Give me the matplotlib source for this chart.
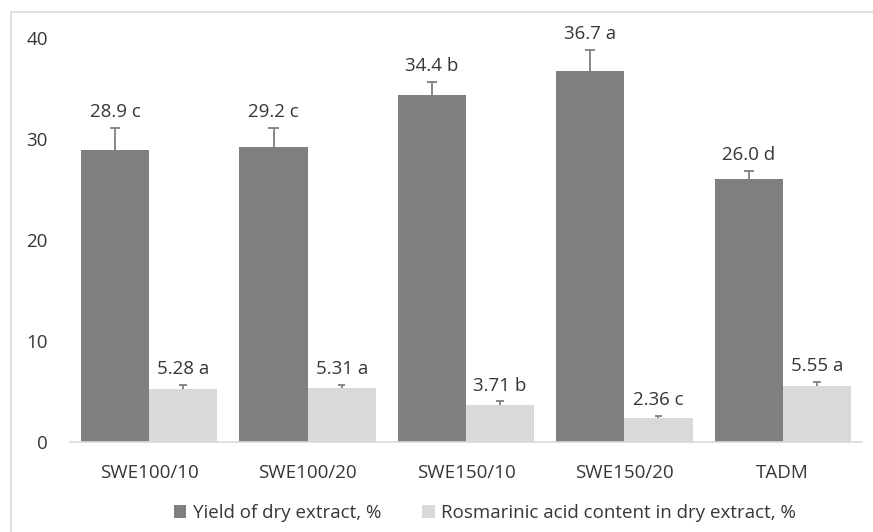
import matplotlib
matplotlib.use("Agg")
import matplotlib.pyplot as plt
import numpy as np
from matplotlib.patches import Rectangle, Patch

plt.rcParams['font.family'] = ['Open Sans', 'DejaVu Sans']

categories = ["SWE100/10", "SWE100/20", "SWE150/10", "SWE150/20", "TADM"]
yield_vals = [28.9, 29.2, 34.4, 36.7, 26.0]
yield_err = [2.2, 1.9, 1.2, 2.1, 0.8]
yield_letters = ["c", "c", "b", "a", "d"]
ra_vals = [5.28, 5.31, 3.71, 2.36, 5.55]
ra_err = [0.35, 0.35, 0.3, 0.2, 0.35]
ra_letters = ["a", "a", "b", "c", "a"]
yield_fmt = "{:.1f} {}"
ra_fmt = "{:.2f} {}"

series_names = ["Yield of dry extract, %", "Rosmarinic acid content in dry extract, %"]

dark = "#7f7f7f"
light = "#d9d9d9"
text_c = "#363636"
fs = 13.5

W, H = 873, 532
fig = plt.figure(figsize=(W / 100, H / 100), dpi=100)
fig.patch.set_facecolor("white")

# outer chart frame
fig.patches.append(Rectangle((11 / W, -0.1), 1.2, 1 - 12 / H + 0.1,
                             transform=fig.transFigure, fill=False,
                             edgecolor="#d9d9d9", linewidth=1.2))

ax = fig.add_axes([70 / W, 1 - 442 / H, (862 - 70) / W, (442 - 38) / H])
x = np.arange(len(categories))
bw = 0.43


def up_errorbars(xs, vals, errs, cap_half):
    """Upper-only error bars: a stem from the bar top and a cap at the end."""
    tops = np.asarray(vals) + np.asarray(errs)
    ax.vlines(xs, vals, tops, color=dark, linewidth=1.3, zorder=3)
    ax.hlines(tops, xs - cap_half, xs + cap_half, color=dark, linewidth=1.3, zorder=3)
    return tops


ax.bar(x - bw / 2, yield_vals, bw, color=dark, zorder=2)
ax.bar(x + bw / 2, ra_vals, bw, color=light, zorder=2)
ytops = up_errorbars(x - bw / 2, yield_vals, yield_err, 0.032)
rtops = up_errorbars(x + bw / 2, ra_vals, ra_err, 0.024)

for xi, v, t, l in zip(x, yield_vals, ytops, yield_letters):
    ax.annotate(yield_fmt.format(v, l), (xi - bw / 2, t), xytext=(0, 5),
                textcoords="offset points", ha="center", va="bottom",
                fontsize=fs, color=text_c)
for xi, v, t, l in zip(x, ra_vals, rtops, ra_letters):
    ax.annotate(ra_fmt.format(v, l), (xi + bw / 2, t), xytext=(0, 5),
                textcoords="offset points", ha="center", va="bottom",
                fontsize=fs, color=text_c)

ax.set_xlim(-0.5, len(categories) - 0.5)
ax.set_ylim(0, 40)
ax.set_yticks([0, 10, 20, 30, 40])
ax.set_xticks(x)
ax.set_xticklabels(categories)
ax.tick_params(axis="both", length=0, labelsize=fs, colors=text_c)
ax.tick_params(axis="y", pad=16)
ax.tick_params(axis="x", pad=16)
for s in ["top", "right", "left"]:
    ax.spines[s].set_visible(False)
ax.spines["bottom"].set_color("#d9d9d9")
ax.spines["bottom"].set_linewidth(1.2)

handles = [Patch(facecolor=dark, edgecolor="none"), Patch(facecolor=light, edgecolor="none")]
fig.legend(handles, series_names, loc="center", bbox_to_anchor=(485 / W, 1 - 513 / H),
           ncol=2, frameon=False, fontsize=fs, labelcolor=text_c,
           handlelength=0.65, handleheight=0.65, handletextpad=0.35, columnspacing=2.2)

fig.savefig("out.png", dpi=100, facecolor="white")
